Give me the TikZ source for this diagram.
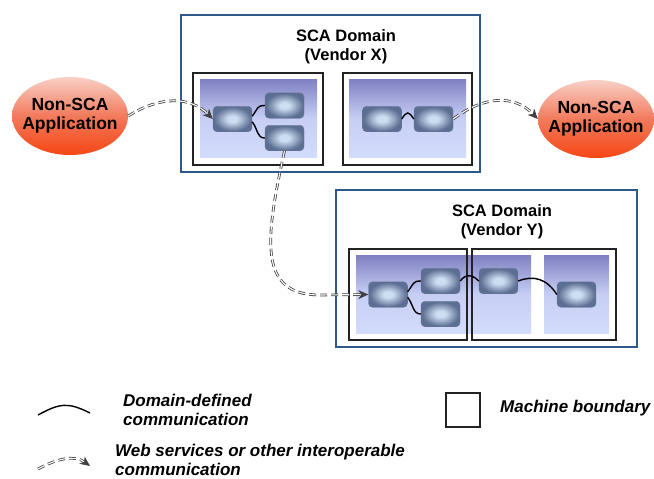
\documentclass[tikz,border=0pt]{standalone}
\usepackage{fontspec}
\setmainfont{Liberation Sans}
\usetikzlibrary{arrows.meta,shapes.geometric}
\definecolor{domainblue}{RGB}{45,88,140}
\definecolor{machineline}{RGB}{35,35,35}
\definecolor{areatop}{RGB}{128,128,194}
\definecolor{areamid}{RGB}{198,206,244}
\definecolor{areabot}{RGB}{212,220,252}
\definecolor{compin}{RGB}{205,222,242}
\definecolor{compout}{RGB}{92,110,146}
\definecolor{compedge}{RGB}{105,122,155}
\definecolor{apptop}{RGB}{248,208,198}
\definecolor{appmid}{RGB}{242,122,92}
\definecolor{appbot}{RGB}{246,70,20}
\pgfdeclareradialshading{compshade}{\pgfpoint{0bp}{0bp}}{color(0bp)=(compin); color(6bp)=(compin); color(24bp)=(compout); color(50bp)=(compout)}

\begin{document}
\begin{tikzpicture}[x=1pt,y=-1pt,
    domain_box/.style={draw=domainblue,line width=2.8pt},
    machine_box/.style={draw=machineline,line width=1.6pt},
    area/.style={top color=areatop,bottom color=areabot,middle color=areamid},
    comp/.style={rectangle,rounded corners=4pt,minimum width=39pt,minimum height=25.5pt,inner sep=0pt,shading=compshade,draw=compedge,line width=0.4pt},
    app/.style={ellipse,minimum width=116pt,minimum height=78pt,inner xsep=-9pt,inner ysep=0pt,top color=apptop,bottom color=appbot,middle color=appmid,align=center,font=\fontsize{17.5}{19}\selectfont\bfseries},
    title/.style={align=center,inner sep=0pt,font=\fontsize{16.5}{19}\selectfont\bfseries},
    legend_text/.style={align=left,inner sep=0pt,font=\fontsize{17}{19}\selectfont\bfseries\itshape},
    dom_link/.style={draw=black,line width=1.4pt},
    ws_link/.style={draw=black!75,double=white,double distance=1.1pt,line width=0.8pt,dash pattern=on 7pt off 4pt,-{Stealth[length=10pt,width=9pt,inset=3pt]}}]
    \useasboundingbox (0,0) rectangle (654,479);

    \draw[domain_box] (181,15) rectangle (480,172);
    \draw[domain_box] (336,190) rectangle (637,347);
    \node[title] (titleX) at (346,47) {SCA Domain\\(Vendor X)};
    \node[title] (titleY) at (502,222) {SCA Domain\\(Vendor Y)};

    \fill[area] (200,79) rectangle (317,157);
    \fill[area] (349,79) rectangle (466,157);
    \fill[area] (356,255) rectangle (531,333);
    \fill[area] (544,255) rectangle (609,333);
    \draw[machine_box] (193,73) rectangle (323,165);
    \draw[machine_box] (343,73) rectangle (472,165);
    \draw[machine_box] (349,249) rectangle (467,340);
    \draw[machine_box] (472,249) rectangle (616,340);

    \node[comp] (xa) at (232.5,119) {};
    \node[comp] (xb) at (284.5,105.5) {};
    \node[comp] (xc) at (284.5,138) {};
    \node[comp] (xd) at (382,119) {};
    \node[comp] (xe) at (433.5,119) {};
    \node[comp] (ya) at (388,294.5) {};
    \node[comp] (yb) at (440.5,281) {};
    \node[comp] (yc) at (440.5,314) {};
    \node[comp] (yd) at (498.5,281) {};
    \node[comp] (ye) at (576.5,294.5) {};

    \draw[dom_link] (xa.8) .. controls +(6,-8) and +(-8,0) .. (xb.west);
    \draw[dom_link] (xa.-8) .. controls +(6,8) and +(-8,0) .. (xc.west);
    \draw[dom_link] (xd.east) .. controls +(5,-8) and +(-5,-8) .. (xe.west);
    \draw[dom_link] (ya.8) .. controls +(6,-8) and +(-8,0) .. (yb.west);
    \draw[dom_link] (ya.-8) .. controls +(6,8) and +(-8,0) .. (yc.west);
    \draw[dom_link] (yb.east) .. controls +(6,-8) and +(-6,-6) .. (yd.west);
    \draw[dom_link] (yd.east) .. controls +(15,-6) and +(-10,-16) .. (ye.west);

    \node[app] (appL) at (70,116) {Non-SCA\\Application};
    \node[app] (appR) at (596,119) {Non-SCA\\Application};

    \draw[ws_link] (appL.east) .. controls (160,96) and (190,96) .. (xa.west);
    \draw[ws_link] (xe.east) .. controls (485,95) and (515,95) .. (appR.west);
    \draw[ws_link] (xc.south) .. controls (265,240) and (258,295) .. (320,295) -- (ya.west);

    \coordinate (solidA) at (38,415);
    \coordinate (solidB) at (90,413);
    \coordinate (wsA) at (38,469);
    \coordinate (wsB) at (90,466);
    \draw[dom_link] (solidA) .. controls (60,403) and (68,402) .. (solidB);
    \draw[ws_link] (wsA) .. controls (58,458) and (75,455) .. (wsB);
    \draw[machine_box] (446,393) rectangle (480,427);

    \node[legend_text,anchor=west] (legdom) at (123,410) {Domain-defined\\communication};
    \node[legend_text,anchor=west] (legws) at (115,459.5) {Web services or other interoperable\\communication};
    \node[legend_text,anchor=base west] (legmach) at (500,412) {Machine boundary};
\end{tikzpicture}
\end{document}
